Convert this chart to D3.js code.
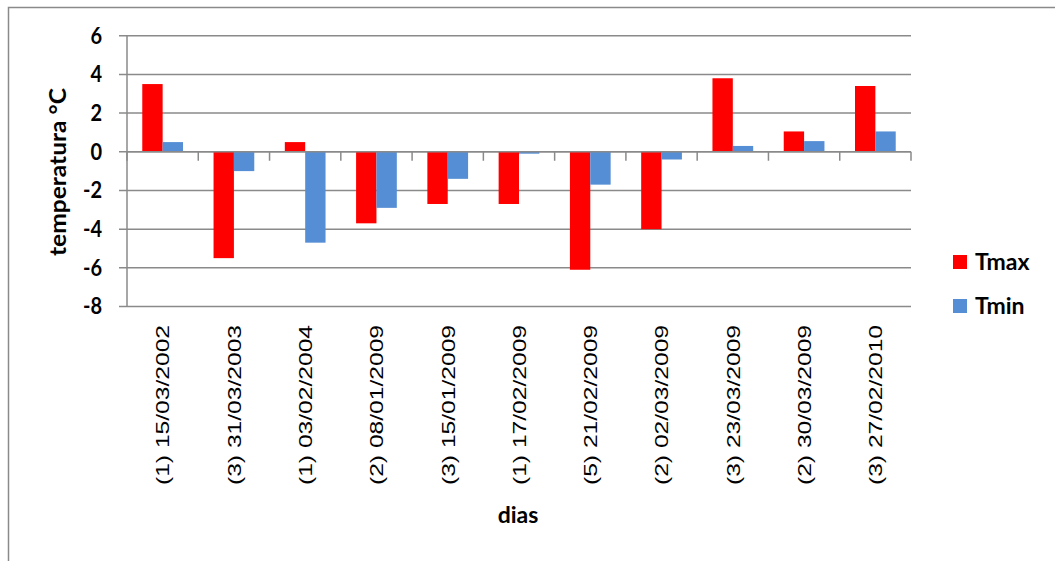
<!DOCTYPE html>
<html>
<head>
<meta charset="utf-8">
<script src="https://cdn.jsdelivr.net/npm/d3@7"></script>
<style>
  body { margin: 0; background: #fff; }
  svg { display: block; }
</style>
</head>
<body>
<div id="chart"></div>
<script>
// chart data
const categories = [
    "(1) 15/03/2002", "(3) 31/03/2003", "(1) 03/02/2004", "(2) 08/01/2009",
    "(3) 15/01/2009", "(1) 17/02/2009", "(5) 21/02/2009", "(2) 02/03/2009",
    "(3) 23/03/2009", "(2) 30/03/2009", "(3) 27/02/2010"
];
const tmax = [3.5, -5.5, 0.5, -3.7, -2.7, -2.7, -6.1, -4.0, 3.8, 1.05, 3.4];
const tmin = [0.5, -1.0, -4.7, -2.9, -1.4, -0.1, -1.7, -0.4, 0.3, 0.55, 1.05];
const seriesNames = ["Tmax", "Tmin"];
const seriesColors = ["#ff0000", "#558ed5"];
const yTicks = [-8, -6, -4, -2, 0, 2, 4, 6];

const W = 1055, H = 561;
const plot = { left: 127, right: 911, top: 35.7, bottom: 306.5 };
const gridColor = "#8a8a8a";

const svg = d3.select("#chart").append("svg")
    .attr("width", W)
    .attr("height", H);

// outer chart border (runs past the right/bottom edge)
svg.append("rect")
    .attr("x", 8.5).attr("y", 7.5)
    .attr("width", 1070).attr("height", 580)
    .attr("fill", "none")
    .attr("stroke", gridColor)
    .attr("stroke-width", 1.5);

// scales
const x = d3.scaleBand()
    .domain(categories)
    .range([plot.left, plot.right])
    .padding(0);

const xSub = d3.scaleBand()
    .domain(seriesNames)
    .range([0, x.bandwidth()])
    .paddingInner(0)
    .paddingOuter(0.75);

const y = d3.scaleLinear()
    .domain([-8, 6])
    .range([plot.bottom, plot.top]);

// horizontal gridlines
svg.append("g")
    .selectAll("line")
    .data(yTicks)
    .enter()
    .append("line")
    .attr("x1", plot.left - 8)
    .attr("x2", plot.right)
    .attr("y1", d => y(d))
    .attr("y2", d => y(d))
    .attr("stroke", gridColor)
    .attr("stroke-width", 1.5);

// y tick labels
svg.append("g")
    .selectAll("text")
    .data(yTicks)
    .enter()
    .append("text")
    .attr("transform", d => `translate(102,${y(d)}) scale(1,1.1)`)
    .attr("dy", "0.36em")
    .attr("text-anchor", "end")
    .style("font-family", "Lato, 'Open Sans', sans-serif")
    .style("font-weight", "bold")
    .style("font-size", "20px")
    .text(d => d);

// bars
const rows = categories.map((c, i) => ({ cat: c, values: [tmax[i], tmin[i]] }));

const groups = svg.append("g")
    .selectAll("g")
    .data(rows)
    .enter()
    .append("g")
    .attr("transform", d => `translate(${x(d.cat)},0)`);

groups.selectAll("rect")
    .data(d => d.values.map((v, k) => ({ key: seriesNames[k], value: v, color: seriesColors[k] })))
    .enter()
    .append("rect")
    .attr("x", d => xSub(d.key))
    .attr("width", xSub.bandwidth())
    .attr("y", d => y(Math.max(0, d.value)))
    .attr("height", d => Math.abs(y(d.value) - y(0)))
    .attr("fill", d => d.color);

// y axis line
svg.append("line")
    .attr("x1", plot.left).attr("x2", plot.left)
    .attr("y1", plot.top).attr("y2", plot.bottom)
    .attr("stroke", gridColor)
    .attr("stroke-width", 1.5);

// x axis at zero with category tick marks
svg.append("line")
    .attr("x1", plot.left).attr("x2", plot.right)
    .attr("y1", y(0)).attr("y2", y(0))
    .attr("stroke", gridColor)
    .attr("stroke-width", 1.5);

const boundaries = categories.map(c => x(c)).concat([plot.right]);
svg.append("g")
    .selectAll("line")
    .data(boundaries)
    .enter()
    .append("line")
    .attr("x1", d => d).attr("x2", d => d)
    .attr("y1", y(0)).attr("y2", y(0) + 9)
    .attr("stroke", gridColor)
    .attr("stroke-width", 1.5);

// category labels (rotated)
svg.append("g")
    .selectAll("text")
    .data(categories)
    .enter()
    .append("text")
    .attr("transform", d => `translate(${x(d) + x.bandwidth() / 2},325) rotate(-90)`)
    .attr("dy", "0.36em")
    .attr("text-anchor", "end")
    .attr("textLength", 160)
    .attr("lengthAdjust", "spacingAndGlyphs")
    .style("font-family", "'Liberation Sans', Arial, sans-serif")
    .style("font-size", "19px")
    .text(d => d);

// axis titles
svg.append("text")
    .attr("transform", "translate(58,172) rotate(-90)")
    .attr("dy", "0.36em")
    .attr("text-anchor", "middle")
    .attr("textLength", 168)
    .attr("lengthAdjust", "spacingAndGlyphs")
    .style("font-family", "Lato, 'Open Sans', sans-serif")
    .style("font-weight", "bold")
    .style("font-size", "22px")
    .text("temperatura °C");

svg.append("text")
    .attr("x", 518)
    .attr("y", 523)
    .attr("text-anchor", "middle")
    .style("font-family", "Lato, 'Open Sans', sans-serif")
    .style("font-weight", "bold")
    .style("font-size", "23px")
    .text("dias");

// legend
const legend = svg.append("g")
    .selectAll("g")
    .data(seriesNames)
    .enter()
    .append("g")
    .attr("transform", (d, i) => `translate(953,${262 + i * 44})`);

legend.append("rect")
    .attr("x", 0).attr("y", -7)
    .attr("width", 14).attr("height", 14)
    .attr("fill", (d, i) => seriesColors[i]);

legend.append("text")
    .attr("x", 22)
    .attr("dy", "0.36em")
    .style("font-family", "Lato, 'Open Sans', sans-serif")
    .style("font-weight", "bold")
    .style("font-size", "23px")
    .text(d => d);
</script>
</body>
</html>
